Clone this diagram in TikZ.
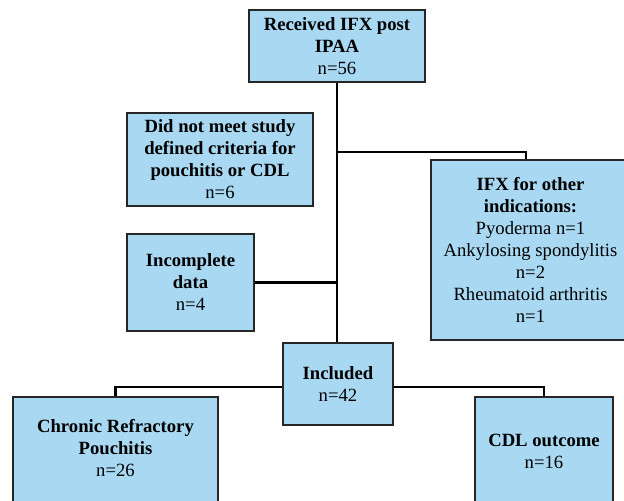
\documentclass[tikz,border=0pt]{standalone}
\usepackage{fontspec}
\setmainfont{Liberation Serif}
\definecolor{boxblue}{RGB}{168,216,242}
\begin{document}
\begin{tikzpicture}[x=0.75pt,y=-0.75pt,
  box/.style={draw=black!85,line width=0.9pt,fill=boxblue,inner sep=0pt,align=center,font=\fontsize{14}{16.5}\selectfont},
  txt/.style={inner sep=0pt,align=center,font=\fontsize{14}{16.5}\selectfont},
  conn/.style={line width=2pt,black}]
\useasboundingbox (0,0) rectangle (624,500);
\clip (0,0) rectangle (624,500);
% boxes
\node[box,minimum width=176*.75pt,minimum height=72*.75pt] (top) at (337,46)
  {\textbf{Received IFX post}\\\textbf{IPAA}\\n=56};
\node[box,minimum width=186*.75pt,minimum height=93*.75pt] (crit) at (220,159.5)
  {\textbf{Did not meet study}\\\textbf{defined criteria for}\\\textbf{pouchitis or CDL}\\n=6};
\node[box,minimum width=199*.75pt,minimum height=180*.75pt] (ifx) at (530.5,250)
  {\textbf{IFX for other}\\\textbf{indications:}\\Pyoderma n=1\\Ankylosing spondylitis\\n=2\\Rheumatoid arthritis\\n=1};
\node[box,minimum width=127*.75pt,minimum height=97*.75pt] (inc) at (190.5,282.5)
  {\textbf{Incomplete}\\\textbf{data}\\n=4};
\node[box,minimum width=110*.75pt,minimum height=82*.75pt] (incl) at (338,384)
  {\textbf{Included}\\n=42};
\node[box,minimum width=205*.75pt,minimum height=113*.75pt] (crpbox) at (115.5,453.5) {};
\node[txt] (crptext) at (115.5,448) {\textbf{Chronic Refractory}\\\textbf{Pouchitis}\\n=26};
\node[box,minimum width=138*.75pt,minimum height=113*.75pt] (cdlbox) at (544,453.5) {};
\node[txt] (cdltext) at (544,451) {\textbf{CDL outcome}\\n=16};
% junction coordinates
\coordinate (j1) at (337,152);
\coordinate (j2) at (526,160);
\coordinate (lb) at (0,387);
% connectors
\draw[conn] (top.south) -- (top.south |- incl.north);
\draw[conn] (top.south |- j1) -| (ifx.north -| j2);
\draw[conn] (inc.east) -- (inc.east -| top.south);
\draw[conn] (incl.west |- lb) -| (crpbox.north);
\draw[conn] (incl.east |- lb) -| (cdlbox.north);
\end{tikzpicture}
\end{document}
